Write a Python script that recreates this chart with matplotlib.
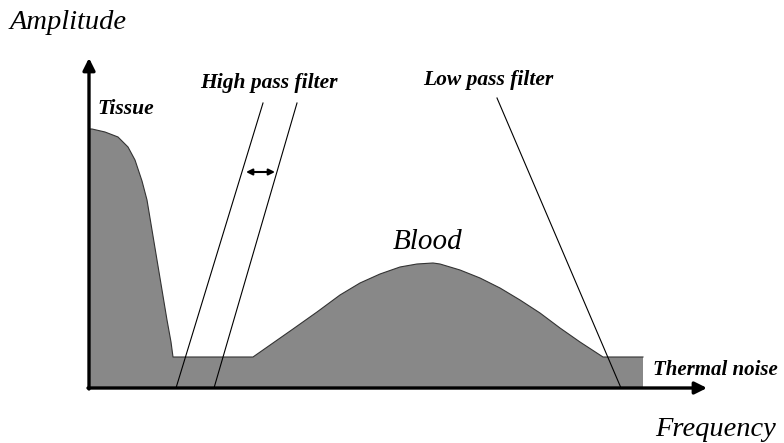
import matplotlib
matplotlib.use("Agg")
import matplotlib.pyplot as plt

# spectrum outline (frequency, amplitude), arbitrary units from the origin
freq = [0, 3, 16, 29, 39, 46, 53, 58, 63, 68, 73, 78, 82, 84,
        164, 184, 204, 228, 251, 271, 291, 311, 328, 344, 351, 371, 391,
        411, 431, 451, 471, 491, 514,
        554, 554]
amp = [259, 259, 256, 251, 241, 228, 207, 188, 158, 128, 98, 68, 46, 31,
       31, 45, 59, 76, 93, 105, 114, 121, 124, 125, 124, 118, 110,
       100, 88, 75, 60, 46, 31,
       31, 0]

# filter edges: (f_bottom, f_top, amp_top)
high_pass_1 = (87, 174, 285)
high_pass_2 = (125, 208, 285)
low_pass = (532, 408, 290)
shift_arrow = (157, 186, 216)  # f_start, f_end, amp

serif = ["Liberation Serif", "DejaVu Serif"]

fig = plt.figure(figsize=(7.84, 4.43), dpi=100)
ax = fig.add_axes([0, 0, 1, 1])
ax.set_xlim(-89, 784 - 89)
ax.set_ylim(-(443 - 388), 388)
ax.axis("off")

# gray spectrum
poly_f = [0] + freq + [0]
poly_a = [0] + amp + [0]
ax.fill(poly_f, poly_a, color="#888888", linewidth=0, zorder=1)
ax.plot(freq[:-1], amp[:-1], color="#333333", linewidth=0.8,
        solid_joinstyle="round", zorder=2)

# filter lines
for f0, f1, a1 in (high_pass_1, high_pass_2, low_pass):
    ax.plot([f0, f1], [0, a1], color="black", linewidth=0.8, zorder=3)

ax.annotate("", xy=(shift_arrow[1], shift_arrow[2]), xytext=(shift_arrow[0], shift_arrow[2]),
            arrowprops=dict(arrowstyle="<|-|>", color="black", lw=1.5,
                            mutation_scale=9, shrinkA=0, shrinkB=0), zorder=4)

# axes with arrows
ax.annotate("", xy=(0, 330), xytext=(0, -1),
            arrowprops=dict(arrowstyle="-|>", color="black", lw=2.4,
                            mutation_scale=18, shrinkA=0, shrinkB=0), zorder=5)
ax.annotate("", xy=(618, 0), xytext=(-1, 0),
            arrowprops=dict(arrowstyle="-|>", color="black", lw=2.4,
                            mutation_scale=18, shrinkA=0, shrinkB=0), zorder=5)

# labels
ax.text(-79, 366, "Amplitude", family=serif, style="italic", fontsize=20.5,
        ha="left", va="center")
ax.text(566, -42, "Frequency", family=serif, style="italic", fontsize=20.5,
        ha="left", va="center")
ax.text(304, 146, "Blood", family=serif, style="italic", fontsize=21,
        ha="left", va="center")
ax.text(8, 279, "Tissue", family=serif, style="italic", weight="bold",
        fontsize=15.5, ha="left", va="center")
ax.text(111, 305, "High pass filter", family=serif, style="italic", weight="bold",
        fontsize=15.5, ha="left", va="center")
ax.text(334, 308, "Low pass filter", family=serif, style="italic", weight="bold",
        fontsize=15.5, ha="left", va="center")
ax.text(564, 18, "Thermal noise", family=serif, style="italic", weight="bold",
        fontsize=15, ha="left", va="center")

fig.savefig("out.png", dpi=100)
